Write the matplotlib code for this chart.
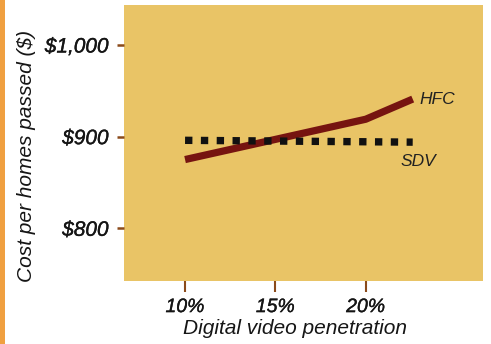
import matplotlib
matplotlib.use("Agg")
import matplotlib.pyplot as plt
import matplotlib.patheffects as pe
from matplotlib.patches import Rectangle

# penetration (%) vs cost per home passed ($)
hfc_x = [10, 15, 20, 22.6]
hfc_y = [875, 897, 919, 941]
sdv_x = [10, 22.6]
sdv_y = [896, 894]

x_ticks = [10, 15, 20]
x_labels = ["10%", "15%", "20%"]
y_ticks = [800, 900, 1000]
y_labels = ["$800", "$900", "$1,000"]

plt.rcParams['font.family'] = ['Liberation Sans', 'DejaVu Sans']
plt.rcParams['font.style'] = 'italic'
ink = '#151515'
heavy = [pe.withStroke(linewidth=0.25, foreground=ink)]

fig = plt.figure(figsize=(4.91, 3.44), dpi=100, facecolor='white')
ax = fig.add_axes([0.2525, 0.1831, 0.7312, 0.8023])
ax.set_facecolor('#e9c466')
for s in ax.spines.values():
    s.set_visible(False)

ax.plot(hfc_x, hfc_y, color='#761410', lw=5.2, solid_capstyle='butt', zorder=3)
ax.plot(sdv_x, sdv_y, color='#111111', lw=5.3, linestyle=(0, (1, 1.15)),
        dash_capstyle='butt', zorder=4)

ax.text(22.95, 941, "HFC", fontsize=12.5, color='#222222', va='center', ha='left')
ax.text(21.95, 873, "SDV", fontsize=12.5, color='#222222', va='center', ha='left')

ax.set_xlim(6.62, 26.49)
ax.set_ylim(742.5, 1043.6)
ax.set_xticks(x_ticks, x_labels, fontsize=14)
ax.set_yticks(y_ticks, y_labels, fontsize=15)
for lab in ax.get_xticklabels() + ax.get_yticklabels():
    lab.set_color(ink)
    lab.set_path_effects(heavy)
ax.tick_params(axis='x', direction='out', length=8, width=1.5, color='#8b4a1a', pad=5)
ax.tick_params(axis='y', direction='out', length=5, width=1.8, color='#8b4a1a', pad=6)

fig.text(295 / 491, 1 - 328 / 344, "Digital video penetration", fontsize=15,
         ha='center', va='center', color=ink)
fig.text(27 / 491, 1 - 156 / 344, "Cost per homes passed ($)", fontsize=15,
         rotation=90, ha='center', va='center', color=ink)

# orange edge strip on the left
fig.patches.append(Rectangle((0, 0), 5 / 491, 1, transform=fig.transFigure,
                             facecolor='#f0a040', edgecolor='none'))

fig.savefig("out.png", dpi=100)
